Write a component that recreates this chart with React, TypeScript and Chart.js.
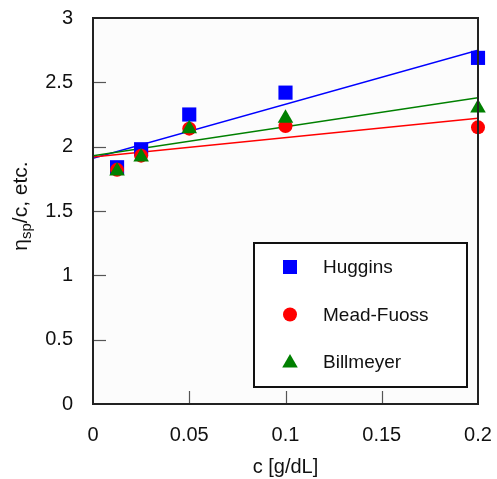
import React, { useEffect, useRef } from "react";
import { Chart, registerables } from "chart.js";

Chart.register(...registerables);

const cValues = [0.0125, 0.025, 0.05, 0.1, 0.2];
const huggins = [1.84, 1.98, 2.25, 2.42, 2.69];
const meadFuoss = [1.82, 1.93, 2.14, 2.16, 2.15];
const billmeyer = [1.81, 1.92, 2.14, 2.22, 2.3];
const fitX = [0, 0.2];
const hugginsFit = [1.91, 2.75];
const meadFuossFit = [1.92, 2.22];
const billmeyerFit = [1.93, 2.38];
const seriesLabels = ["Huggins", "Mead-Fuoss", "Billmeyer"];
const xTicks = [0.05, 0.1, 0.15];
const yTicks = [0.5, 1, 1.5, 2, 2.5];

const BLUE = "#0000ff";
const RED = "#ff0000";
const GREEN = "#008000";
const FONT = '"Liberation Sans", Arial, sans-serif';

const toPts = (xs: number[], ys: number[]) => xs.map((x, i) => ({ x, y: ys[i] }));

function drawMarker(ctx: CanvasRenderingContext2D, kind: string, x: number, y: number, color: string) {
  ctx.fillStyle = color;
  ctx.beginPath();
  if (kind === "rect") {
    ctx.rect(x - 7, y - 7, 14, 14);
  } else if (kind === "circle") {
    ctx.arc(x, y, 7, 0, Math.PI * 2);
  } else {
    const r = 9;
    ctx.moveTo(x, y - r);
    ctx.lineTo(x + r * Math.cos(Math.PI / 6), y + r / 2);
    ctx.lineTo(x - r * Math.cos(Math.PI / 6), y + r / 2);
    ctx.closePath();
  }
  ctx.fill();
}

const framePlugin = {
  id: "frame",
  beforeDatasetsDraw(chart: any) {
    const { ctx, chartArea: a, scales } = chart;
    ctx.save();
    ctx.fillStyle = "#fcfcfc";
    ctx.fillRect(a.left, a.top, a.right - a.left, a.bottom - a.top);
    ctx.strokeStyle = "#555";
    ctx.lineWidth = 1.2;
    xTicks.forEach((t) => {
      const px = Math.round(scales.x.getPixelForValue(t)) + 0.5;
      ctx.beginPath();
      ctx.moveTo(px, a.bottom);
      ctx.lineTo(px, a.bottom - 13);
      ctx.stroke();
    });
    yTicks.forEach((t) => {
      const py = Math.round(scales.y.getPixelForValue(t)) + 0.5;
      ctx.beginPath();
      ctx.moveTo(a.left, py);
      ctx.lineTo(a.left + 13, py);
      ctx.stroke();
    });
    ctx.restore();
  },
  afterDatasetsDraw(chart: any) {
    const { ctx, chartArea: a } = chart;
    ctx.save();
    ctx.strokeStyle = "#222";
    ctx.lineWidth = 2;
    ctx.strokeRect(a.left, a.top, a.right - a.left, a.bottom - a.top);
    ctx.restore();
  },
  afterDraw(chart: any) {
    const { ctx } = chart;
    ctx.save();
    ctx.fillStyle = "#111";
    ctx.translate(21, 206);
    ctx.rotate(-Math.PI / 2);
    ctx.textBaseline = "middle";
    ctx.font = `21px ${FONT}`;
    const w1 = ctx.measureText("η").width;
    ctx.font = `15px ${FONT}`;
    const w2 = ctx.measureText("sp").width;
    ctx.font = `21px ${FONT}`;
    const w3 = ctx.measureText("/c, etc.").width;
    let x0 = -(w1 + w2 + w3) / 2;
    ctx.textAlign = "left";
    ctx.fillText("η", x0, 0);
    x0 += w1;
    ctx.font = `15px ${FONT}`;
    ctx.fillText("sp", x0, 6);
    x0 += w2;
    ctx.font = `21px ${FONT}`;
    ctx.fillText("/c, etc.", x0, 0);
    ctx.setTransform(1, 0, 0, 1, 0, 0);

    const lx = 254, ly = 243, lw = 213, lh = 144;
    ctx.fillStyle = "#ffffff";
    ctx.fillRect(lx, ly, lw, lh);
    ctx.strokeStyle = "#111";
    ctx.lineWidth = 2;
    ctx.strokeRect(lx, ly, lw, lh);
    const kinds = ["rect", "circle", "triangle"];
    const colors = [BLUE, RED, GREEN];
    ctx.font = `19px ${FONT}`;
    ctx.textAlign = "left";
    ctx.textBaseline = "middle";
    seriesLabels.forEach((lab, i) => {
      const yy = ly + 24 + i * 47.5;
      drawMarker(ctx, kinds[i], lx + 36, yy + (kinds[i] === "triangle" ? 1 : 0), colors[i]);
      ctx.fillStyle = "#111";
      ctx.fillText(lab, lx + 69, yy + 1);
    });
    ctx.restore();
  },
};

export default function App() {
  const ref = useRef<HTMLCanvasElement>(null);
  useEffect(() => {
    document.body.style.margin = "0";
    const chart = new Chart(ref.current!, {
      type: "scatter",
      data: {
        datasets: [
          {
            label: "Huggins fit",
            type: "line",
            data: toPts(fitX, hugginsFit),
            borderColor: BLUE,
            borderWidth: 1.5,
            pointRadius: 0,
            fill: false,
            order: 10,
          },
          {
            label: "Mead-Fuoss fit",
            type: "line",
            data: toPts(fitX, meadFuossFit),
            borderColor: RED,
            borderWidth: 1.5,
            pointRadius: 0,
            fill: false,
            order: 9,
          },
          {
            label: "Billmeyer fit",
            type: "line",
            data: toPts(fitX, billmeyerFit),
            borderColor: GREEN,
            borderWidth: 1.5,
            pointRadius: 0,
            fill: false,
            order: 8,
          },
          {
            label: seriesLabels[0],
            data: toPts(cValues, huggins),
            pointStyle: "rect",
            pointRadius: 10,
            backgroundColor: BLUE,
            borderWidth: 0,
            clip: false,
            order: 3,
          },
          {
            label: seriesLabels[1],
            data: toPts(cValues, meadFuoss),
            pointStyle: "circle",
            pointRadius: 7,
            backgroundColor: RED,
            borderWidth: 0,
            clip: false,
            order: 2,
          },
          {
            label: seriesLabels[2],
            data: toPts(cValues, billmeyer),
            pointStyle: "triangle",
            pointRadius: 9,
            backgroundColor: GREEN,
            borderWidth: 0,
            clip: false,
            order: 1,
          },
        ],
      },
      options: {
        animation: false,
        responsive: false,
        layout: { padding: { top: 18, right: 19, left: 0, bottom: 0 } },
        plugins: { legend: { display: false }, tooltip: { enabled: false } },
        scales: {
          x: {
            type: "linear",
            min: 0,
            max: 0.2,
            grid: { display: false, drawTicks: false },
            border: { display: false },
            ticks: {
              stepSize: 0.05,
              padding: 19,
              color: "#111",
              font: { family: FONT, size: 20 },
              callback: (v: any) => String(Math.round(Number(v) * 100) / 100),
            },
            title: {
              display: true,
              text: "c [g/dL]",
              color: "#111",
              font: { family: FONT, size: 20 },
              padding: { top: 3, bottom: 0 },
            },
            afterFit: (s: any) => {
              s.height = 75;
              s.paddingLeft = 0;
              s.paddingRight = 0;
            },
          },
          y: {
            type: "linear",
            min: 0,
            max: 3,
            grid: { display: false, drawTicks: false },
            border: { display: false },
            ticks: {
              stepSize: 0.5,
              padding: 20,
              color: "#111",
              font: { family: FONT, size: 20 },
              callback: (v: any) => String(Math.round(Number(v) * 10) / 10),
            },
            afterFit: (s: any) => {
              s.width = 93;
              s.paddingTop = 0;
              s.paddingBottom = 0;
            },
          },
        },
      },
      plugins: [framePlugin],
    } as any);
    return () => chart.destroy();
  }, []);
  return <canvas ref={ref} width={497} height={479} style={{ display: "block" }} />;
}
